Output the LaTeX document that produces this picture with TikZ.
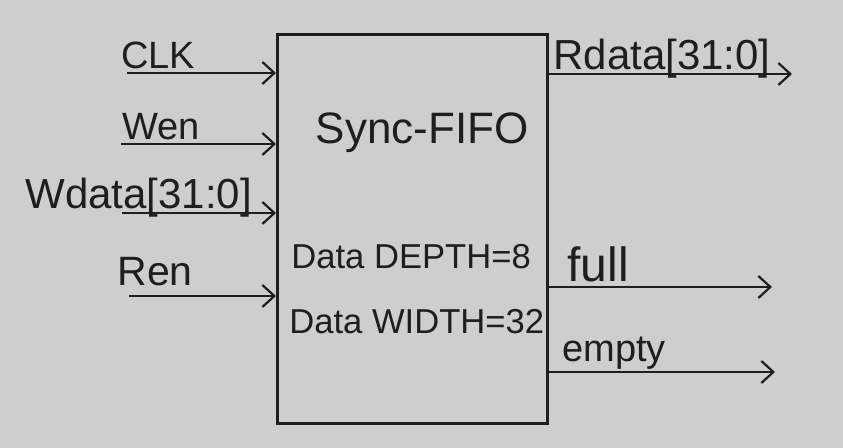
\documentclass[tikz,border=0pt]{standalone}
\usepackage{fontspec}
\setmainfont{Liberation Sans}
\usetikzlibrary{arrows.meta}
\definecolor{bg}{RGB}{206,206,206}
\definecolor{ink}{RGB}{30,30,30}
\tikzset{
  wire/.style={draw=ink, line width=1.3pt, -{Straight Barb[length=6pt,width=11pt,line width=1.1pt]}},
  lbl/.style={text=ink, inner sep=0pt, anchor=base west, font=\fontsize{19}{22}\selectfont},
  inlbl/.style={text=ink, inner sep=0pt, font=\fontsize{17.3}{20}\selectfont},
}
\begin{document}
\begin{tikzpicture}[x=0.5pt,y=-0.5pt]
\fill[bg] (0,0) rectangle (843,448);
\useasboundingbox (0,0) rectangle (843,448);
% block
\node (fifo) [draw=ink, line width=1.4pt, minimum width=135pt, minimum height=194.5pt, anchor=north west, inner sep=0pt] at (276,33) {};
\node (title) [inlbl, font=\fontsize{22}{26}\selectfont] at (422,133) {Sync-FIFO};
\node (depth) [inlbl, anchor=west] at (291,257) {Data DEPTH=8};
\node (width) [inlbl, anchor=west] at (289,322) {Data WIDTH=32};
% inputs
\coordinate (clk) at (127,73);
\coordinate (wen) at (121,144);
\coordinate (wdata) at (122,213);
\coordinate (ren) at (129,296);
\draw[wire] (clk) -- (clk -| fifo.west);
\draw[wire] (wen) -- (wen -| fifo.west);
\draw[wire] (wdata) -- (wdata -| fifo.west);
\draw[wire] (ren) -- (ren -| fifo.west);
\node (tclk) [lbl] at (121,69) {CLK};
\node (twen) [lbl] at (122,140) {Wen};
\node (twdata) [lbl, font=\fontsize{21}{24}\selectfont] at (25,209) {Wdata[31:0]};
\node (tren) [lbl, font=\fontsize{20.5}{24}\selectfont] at (117,286) {Ren};
% outputs
\coordinate (rdata) at (792,74);
\coordinate (full) at (772,287);
\coordinate (empty) at (775,372);
\draw[wire] (rdata -| fifo.east) -- (rdata);
\draw[wire] (full -| fifo.east) -- (full);
\draw[wire] (empty -| fifo.east) -- (empty);
\node (trdata) [lbl, font=\fontsize{21}{24}\selectfont] at (553,70) {Rdata[31:0]};
\node (tfull) [lbl, font=\fontsize{24}{28}\selectfont] at (567,282) {full};
\node (tempty) [lbl] at (562,362) {empty};
\end{tikzpicture}
\end{document}
